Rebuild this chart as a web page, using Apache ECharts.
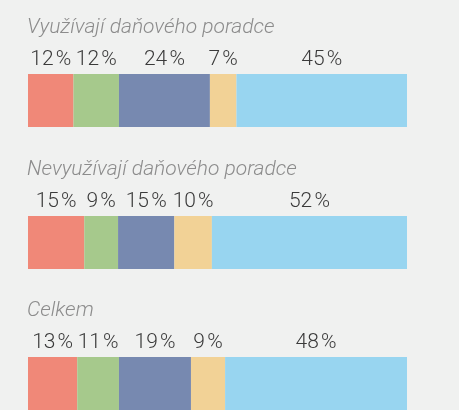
<!DOCTYPE html>
<html>
<head>
<meta charset="utf-8">
<script src="https://cdn.jsdelivr.net/npm/echarts@6/dist/echarts.min.js"></script>
<style>
  html, body { margin: 0; padding: 0; background: #fff; }
  #chart { width: 474px; height: 410px; }
</style>
</head>
<body>
<div id="chart"></div>
<script>
const groups = ['Využívají daňového poradce', 'Nevyužívají daňového poradce', 'Celkem'];
const vyuzivaji = [12, 12, 24, 7, 45];
const nevyuzivaji = [15, 9, 15, 10, 52];
const celkem = [13, 11, 19, 9, 48];
const rows = [vyuzivaji, nevyuzivaji, celkem];
const colors = ['#f08878', '#a6c98c', '#7789b0', '#f2d296', '#98d5f0'];

const rowTops = [74, 216, 357];
const barH = 53;

const chart = echarts.init(document.getElementById('chart'));

const grids = [];
const xAxes = [];
const yAxes = [];
const titles = [];
const series = [];

rows.forEach((vals, r) => {
  const total = vals.reduce((a, b) => a + b, 0);
  grids.push({ left: 28, width: 379, top: rowTops[r], height: barH });
  xAxes.push({ type: 'value', gridIndex: r, min: 0, max: total, show: false });
  yAxes.push({ type: 'category', gridIndex: r, data: [groups[r]], show: false });
  titles.push({
    text: groups[r],
    left: 27,
    top: rowTops[r] - 57,
    padding: 0,
    textStyle: {
      fontFamily: 'Roboto',
      fontStyle: 'italic',
      fontWeight: 300,
      fontSize: 21,
      color: '#8c8c8c'
    }
  });
  vals.forEach((v, i) => {
    series.push({
      type: 'bar',
      xAxisIndex: r,
      yAxisIndex: r,
      stack: 'row' + r,
      barWidth: barH,
      data: [v],
      itemStyle: { color: colors[i] },
      label: {
        show: true,
        position: 'top',
        distance: 4,
        formatter: (p) => p.value + '\u200a%',
        fontFamily: 'Roboto',
        fontWeight: 300,
        fontSize: 21,
        color: '#3a3a3a'
      },
      silent: true
    });
  });
});

chart.setOption({
  backgroundColor: '#fff',
  animation: false,
  graphic: [{
    type: 'rect',
    z: -10,
    shape: { x: 0, y: 0, width: 459, height: 410 },
    style: { fill: '#f0f1f0' }
  }],
  title: titles,
  grid: grids,
  xAxis: xAxes,
  yAxis: yAxes,
  series: series
});
</script>
</body>
</html>
